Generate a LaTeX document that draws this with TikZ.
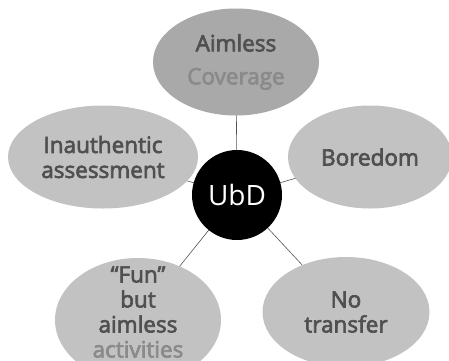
\documentclass[tikz,border=0pt]{standalone}
\usepackage{fontspec}
\setmainfont{Open Sans}
\newfontfamily\semib{Open Sans}[FakeBold=3]
\usetikzlibrary{shapes.geometric}
\definecolor{txt}{HTML}{505050}
\definecolor{faded}{HTML}{8A8A8A}
\definecolor{fillA}{HTML}{A9A9A9}
\definecolor{fillB}{HTML}{C2C2C2}
\definecolor{edgeC}{HTML}{555555}
\begin{document}
\begin{tikzpicture}[x=1pt,y=-1pt,
  bubble/.style={ellipse,inner sep=0pt,text=txt,align=center,
    font=\fontsize{22.5}{25}\semib},
  hub/.style={circle,fill=black,minimum size=90pt,inner sep=0pt,text=white,
    font=\fontsize{28}{30}\selectfont},
  link/.style={draw=edgeC,line width=0.6pt}]
\useasboundingbox[fill=white] (0,0) rectangle (449,360);
\coordinate (c) at (237,195);
\coordinate (pA) at (236,62);
\coordinate (pI) at (103,157);
\coordinate (pB) at (370,157);
\coordinate (pF) at (138,318);
\coordinate (pN) at (346,312);
\draw[link] (c) -- (pA);
\draw[link] (c) -- (pI);
\draw[link] (c) -- (pB);
\draw[link] (c) -- (pF);
\draw[link] (c) -- (pN);
\node[bubble,fill=fillA,minimum width=166pt,minimum height=107pt,
  font=\fontsize{22.5}{33}\semib] (aim) at (pA) {Aimless\\\textcolor{faded}{Coverage}};
\node[bubble,fill=fillB,minimum width=190pt,minimum height=103pt] (ina) at (pI) {Inauthentic\\assessment};
\node[bubble,fill=fillB,minimum width=164pt,minimum height=103pt] (bor) at (pB) {Boredom};
\node[bubble,fill=fillB,minimum width=166pt,minimum height=124pt] (fun) at (138,320) {};
\node[text=txt,align=center,font=\fontsize{22.5}{25}\semib] (funt) at (138,312) {“Fun”\\but\\aimless\\\textcolor{faded}{activities}};
\node[bubble,fill=fillB,minimum width=167pt,minimum height=110pt] (not) at (pN) {No\\transfer};
\node[hub] (ubd) at (c) {UbD};
\end{tikzpicture}
\end{document}
